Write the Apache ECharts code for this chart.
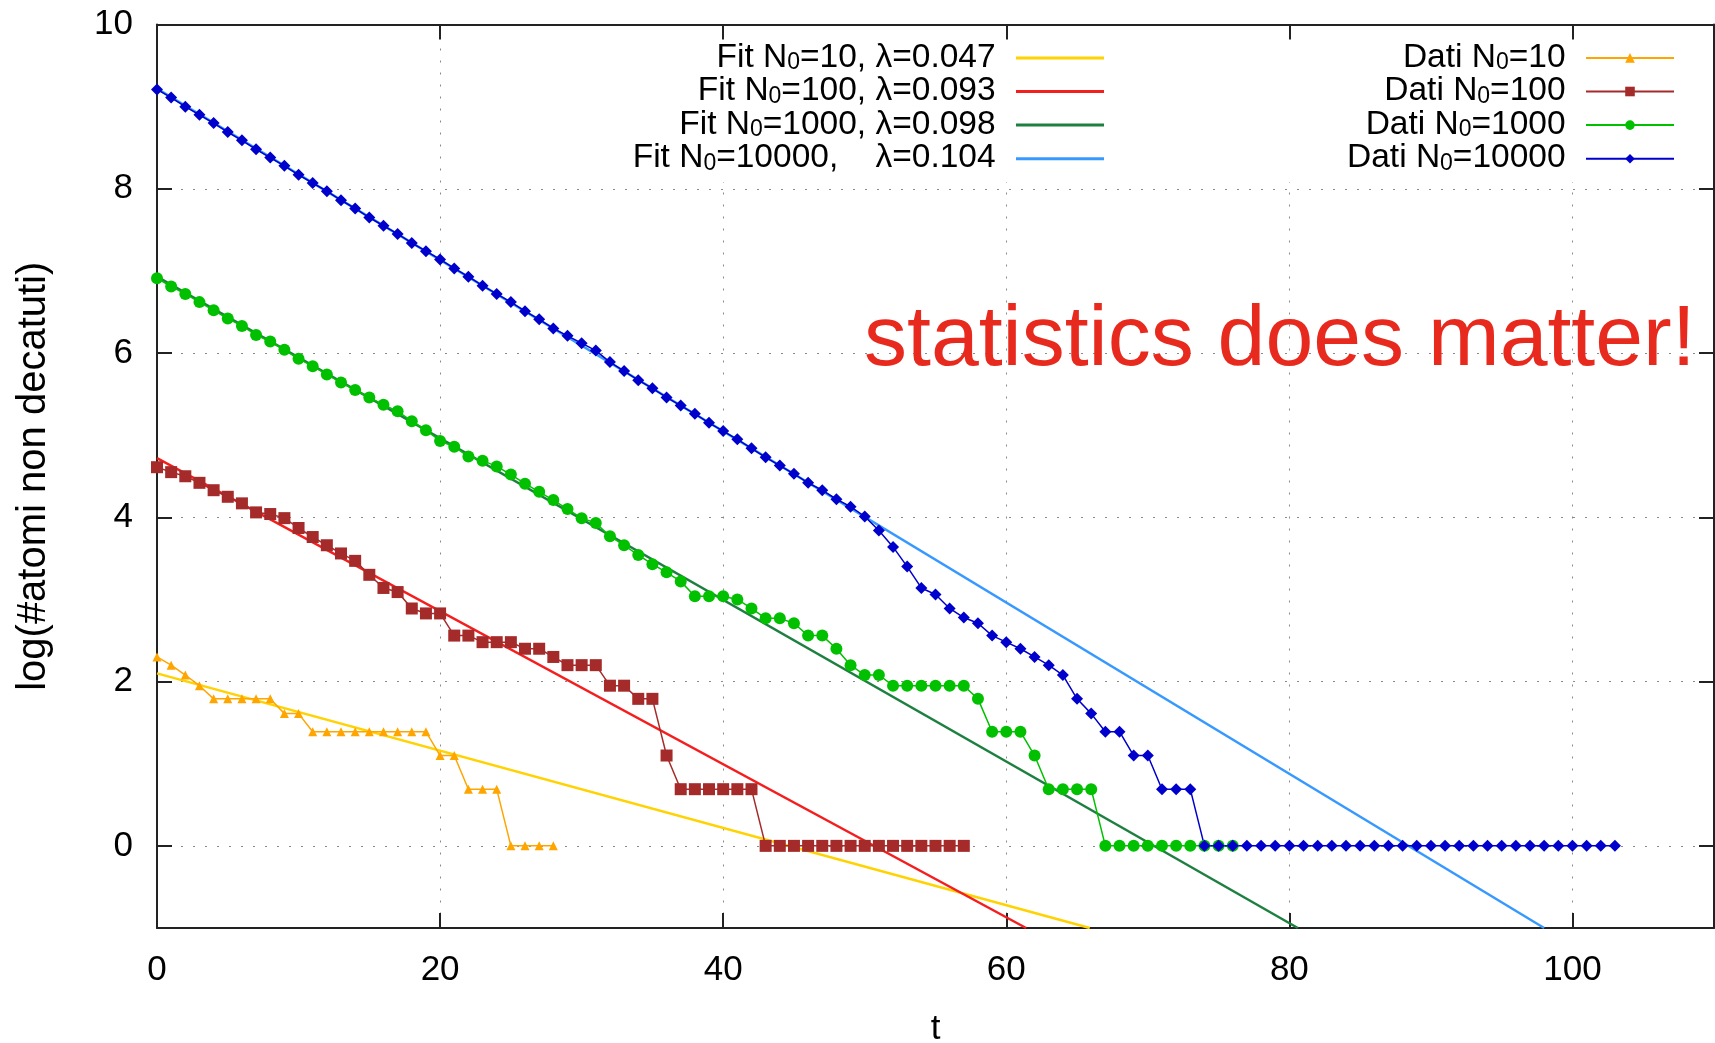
<!DOCTYPE html>
<html><head><meta charset="utf-8">
<script src="https://cdn.jsdelivr.net/npm/echarts@6/dist/echarts.min.js"></script>
<style>html,body{margin:0;padding:0;background:#fff}#c{width:1715px;height:1043px}</style>
</head><body><div id="c"></div>
<script>
// ---- data (t = index, value = log(#atomi non decatuti)) ----
const dati10 = [2.30, 2.20, 2.08, 1.95, 1.79, 1.79, 1.79, 1.79, 1.79, 1.61, 1.61,
  1.39, 1.39, 1.39, 1.39, 1.39, 1.39, 1.39, 1.39, 1.39, 1.10, 1.10, 0.69, 0.69, 0.69,
  0, 0, 0, 0];
const dati100 = [4.61, 4.55, 4.50, 4.42, 4.33, 4.25, 4.17, 4.06, 4.04, 3.99, 3.87,
  3.76, 3.66, 3.56, 3.47, 3.30, 3.14, 3.09, 2.89, 2.83, 2.83, 2.56, 2.56, 2.48, 2.48,
  2.48, 2.40, 2.40, 2.30, 2.20, 2.20, 2.20, 1.95, 1.95, 1.79, 1.79, 1.10,
  0.69, 0.69, 0.69, 0.69, 0.69, 0.69,
  0, 0, 0, 0, 0, 0, 0, 0, 0, 0, 0, 0, 0, 0, 0];
const dati1000 = [6.91, 6.81, 6.72, 6.62, 6.52, 6.42, 6.33, 6.22, 6.14, 6.04, 5.93,
  5.84, 5.74, 5.64, 5.55, 5.46, 5.37, 5.29, 5.17, 5.06, 4.93, 4.86, 4.74, 4.69, 4.62,
  4.52, 4.41, 4.31, 4.21, 4.10, 3.99, 3.93, 3.77, 3.66, 3.54, 3.43, 3.33, 3.22, 3.04,
  3.04, 3.04, 3.00, 2.89, 2.77, 2.77, 2.71, 2.56, 2.56, 2.40, 2.20, 2.08, 2.08,
  1.95, 1.95, 1.95, 1.95, 1.95, 1.95, 1.79, 1.39, 1.39, 1.39, 1.10, 0.69, 0.69, 0.69, 0.69,
  0, 0, 0, 0, 0, 0, 0, 0, 0, 0];
const dati10000 = [9.21, 9.11, 9.00, 8.90, 8.80, 8.69, 8.59, 8.48, 8.38, 8.28, 8.17,
  8.07, 7.97, 7.86, 7.76, 7.65, 7.55, 7.45, 7.34, 7.24, 7.14, 7.03, 6.93, 6.82, 6.72,
  6.62, 6.51, 6.41, 6.30, 6.21, 6.12, 6.03, 5.89, 5.78, 5.67, 5.57, 5.46, 5.36, 5.26,
  5.15, 5.05, 4.95, 4.84, 4.73, 4.63, 4.53, 4.42, 4.33, 4.22, 4.13, 4.01, 3.84, 3.64,
  3.40, 3.14, 3.06, 2.89, 2.78, 2.71, 2.56, 2.48, 2.40, 2.30, 2.20, 2.08, 1.79, 1.61,
  1.39, 1.39, 1.10, 1.10, 0.69, 0.69, 0.69,
  0, 0, 0, 0, 0, 0, 0, 0, 0, 0, 0, 0, 0, 0, 0, 0, 0, 0, 0, 0, 0, 0, 0, 0, 0, 0, 0, 0, 0, 0];
// fit lines: [t, value] end points
const fit10 = [[0, 2.10], [65.9, -1]];
const fit100 = [[0, 4.72], [61.4, -1]];
const fit1000 = [[0, 6.93], [80.6, -1]];
const fit10000 = [[0, 9.22], [98.0, -1]];
const fitNames = ['Fit N0=10, λ=0.047', 'Fit N0=100, λ=0.093', 'Fit N0=1000, λ=0.098', 'Fit N0=10000,    λ=0.104'];
const datiNames = ['Dati N0=10', 'Dati N0=100', 'Dati N0=1000', 'Dati N0=10000'];
const xTicks = [0, 20, 40, 60, 80, 100];
const yTicks = [0, 2, 4, 6, 8, 10];

const FONT = 'Liberation Sans';
const toPairs = arr => arr.map((v, i) => [i, v]);
const fitColors = ['#ffd200', '#f51e1e', '#1e8040', '#3799ff'];
const datiColors = ['#ffa500', '#a52a2a', '#00c000', '#0000cc'];
const datiSymbols = ['triangle', 'rect', 'circle', 'diamond'];
const datiSizes = [9, 12, 12, 12];
const fitData = [fit10, fit100, fit1000, fit10000];
const datiData = [dati10, dati100, dati1000, dati10000];

const series = [];
fitData.forEach((d, i) => series.push({
  name: fitNames[i], type: 'line', data: d, symbol: 'none', silent: true,
  lineStyle: { color: fitColors[i], width: 2.5 }, itemStyle: { color: fitColors[i] }, z: 2
}));
datiData.forEach((d, i) => series.push({
  name: datiNames[i], type: 'line', data: toPairs(d), symbol: datiSymbols[i], symbolSize: datiSizes[i],
  showSymbol: true, silent: true,
  lineStyle: { color: datiColors[i], width: 1.5 }, itemStyle: { color: datiColors[i] }, z: 3
}));

const legendFmt = name => {
  const parts = name.split('N0');
  return '{a|' + parts[0] + 'N}{s|0}{a|' + parts[1] + ' }{p| }';
};
const legendRich = {
  a: { fontSize: 33.5, lineHeight: 17, verticalAlign: 'bottom', fontFamily: FONT, color: '#000' },
  s: { fontSize: 23, lineHeight: 2, verticalAlign: 'bottom', fontFamily: FONT, color: '#000' },
  p: { fontSize: 22, lineHeight: 33, verticalAlign: 'middle', fontFamily: FONT, color: '#000' }
};

const axisCommon = {
  axisLine: { show: true, onZero: false, lineStyle: { color: '#222', width: 2 } },
  axisTick: { show: true, inside: true, length: 15, lineStyle: { color: '#222', width: 2 } }
};

const chart = echarts.init(document.getElementById('c'));
chart.setOption({
  animation: false,
  backgroundColor: '#fff',
  grid: { left: 157, right: 1, top: 24.5, bottom: 115, containLabel: false, outerBoundsMode: 'none' },
  xAxis: [
    { type: 'value', min: 0, max: 110, position: 'bottom',
      axisLine: axisCommon.axisLine,
      axisTick: Object.assign({}, axisCommon.axisTick, { customValues: xTicks }),
      axisLabel: { customValues: xTicks, fontSize: 35, fontFamily: FONT, color: '#000', margin: 25 },
      splitLine: { show: true, lineStyle: { color: '#8a8a8a', width: 1, type: [2, 10] } },
      name: 't', nameLocation: 'middle', nameGap: 84,
      nameTextStyle: { fontSize: 35, fontFamily: FONT, color: '#000' } },
    { type: 'value', min: 0, max: 110, position: 'top',
      axisLine: axisCommon.axisLine,
      axisTick: Object.assign({}, axisCommon.axisTick, { customValues: xTicks }),
      axisLabel: { show: false }, splitLine: { show: false } }
  ],
  yAxis: [
    { type: 'value', min: -1, max: 10, position: 'left',
      axisLine: axisCommon.axisLine,
      axisTick: Object.assign({}, axisCommon.axisTick, { customValues: yTicks }),
      axisLabel: { customValues: yTicks, fontSize: 35, fontFamily: FONT, color: '#000', margin: 24,
        padding: [7, 0, 0, 0] },
      splitLine: { show: true, lineStyle: { color: '#8a8a8a', width: 1, type: [2, 10] } },
      name: 'log(#atomi non decatuti)', nameLocation: 'middle', nameGap: 103, nameRotate: 90,
      nameTextStyle: { fontSize: 40, fontFamily: FONT, color: '#000' } },
    { type: 'value', min: -1, max: 10, position: 'right',
      axisLine: axisCommon.axisLine,
      axisTick: Object.assign({}, axisCommon.axisTick, { customValues: yTicks }),
      axisLabel: { show: false }, splitLine: { show: false } }
  ],
  legend: [
    { orient: 'vertical', align: 'right', right: 611, top: 40.4, padding: 0,
      itemWidth: 88, itemHeight: 3, itemGap: -0.4, selectedMode: false,
      data: fitNames.map(n => ({ name: n, icon: 'rect' })),
      formatter: legendFmt,
      textStyle: { rich: legendRich, fontSize: 33.5, fontFamily: FONT } },
    { orient: 'vertical', align: 'right', right: 40, top: 40.4, padding: 0,
      itemWidth: 88, itemHeight: 12, itemGap: -0.4, selectedMode: false,
      data: datiNames,
      formatter: legendFmt,
      textStyle: { rich: legendRich, fontSize: 33.5, fontFamily: FONT } }
  ],
  graphic: [
    { type: 'rect', z: 1, silent: true, shape: { x: 628, y: 42, width: 1080, height: 140 },
      style: { fill: '#fff' } },
    { type: 'text', z: 10, silent: true, x: 864, y: 341,
      style: { text: 'statistics does matter!', fontSize: 86, fontFamily: FONT, fill: '#e82a1e',
        align: 'left', verticalAlign: 'middle' } }
  ],
  series: series
});
</script>
</body></html>
